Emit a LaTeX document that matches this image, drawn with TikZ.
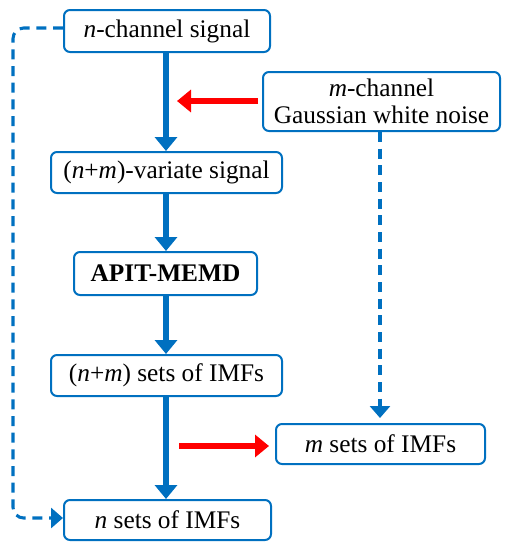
\documentclass[tikz,border=0pt]{standalone}
\usepackage{fontspec}
\setmainfont{Liberation Serif}
\usetikzlibrary{arrows.meta}
\definecolor{bblue}{RGB}{0,112,192}
\definecolor{rred}{RGB}{255,0,0}
\tikzset{
  box/.style={draw=bblue, line width=1.5pt, rounded corners=4.5pt, fill=white,
    inner sep=0pt, align=center, font=\fontsize{19}{21}\selectfont},
  mainarrow/.style={draw=bblue, line width=4.5pt, -{Triangle[width=16.5pt,length=10.5pt]}},
  redarrow/.style={draw=rred, line width=4.5pt, -{Triangle[width=16.5pt,length=10.5pt]}},
  dasharrow/.style={draw=bblue, line width=2.3pt, dash pattern=on 7.5pt off 5pt, -{Triangle[width=15pt,length=9pt]}},
}
\begin{document}
\begin{tikzpicture}[x=0.75pt,y=-0.75pt]
\useasboundingbox (0,0) rectangle (514,550);
\node[box, minimum width=154.5pt, minimum height=31.5pt] (b1) at (167,31) {\textit{n}-channel signal};
\node[box, minimum width=177.75pt, minimum height=44.25pt] (b2) at (381.5,101.5) {\textit{m}-channel\\[-1pt]Gaussian white noise};
\node[box, minimum width=173.25pt, minimum height=30.75pt] (b3) at (166.5,172.5) {(\textit{n}+\textit{m})-variate signal};
\node[box, minimum width=137.25pt, minimum height=32.25pt] (b4) at (165.5,273.5) {\textbf{APIT-MEMD}};
\node[box, minimum width=173.25pt, minimum height=30.75pt] (b5) at (166.5,375.5) {(\textit{n}+\textit{m}) sets of IMFs};
\node[box, minimum width=156.75pt, minimum height=30pt] (b6) at (380.5,444) {\textit{m} sets of IMFs};
\node[box, minimum width=155.25pt, minimum height=30pt] (b7) at (167.5,520) {\textit{n} sets of IMFs};

\draw[mainarrow] (b1.south -| 166,0) -- (b3.north -| 166,0);
\draw[mainarrow] (b3.south -| 166,0) -- (b4.north -| 166,0);
\draw[mainarrow] (b4.south -| 166,0) -- (b5.north -| 166,0);
\draw[mainarrow] (b5.south -| 166,0) -- (b7.north -| 166,0);

\coordinate (r1s) at (258,101);
\coordinate (r1e) at (177,101);
\draw[redarrow] (r1s) -- (r1e);
\coordinate (r2s) at (179,446);
\coordinate (r2e) at (269,446);
\draw[redarrow] (r2s) -- (r2e);

\coordinate (d1e) at (380,418);
\draw[dasharrow] (b2.south -| 380,0) -- (d1e);
\coordinate (lc1) at (13,28);
\coordinate (lc2) at (13,518);
\draw[dasharrow, rounded corners=8pt] (b1.west |- 0,28) -- (lc1) -- (lc2) -- (b7.west |- 0,518);
\end{tikzpicture}
\end{document}
